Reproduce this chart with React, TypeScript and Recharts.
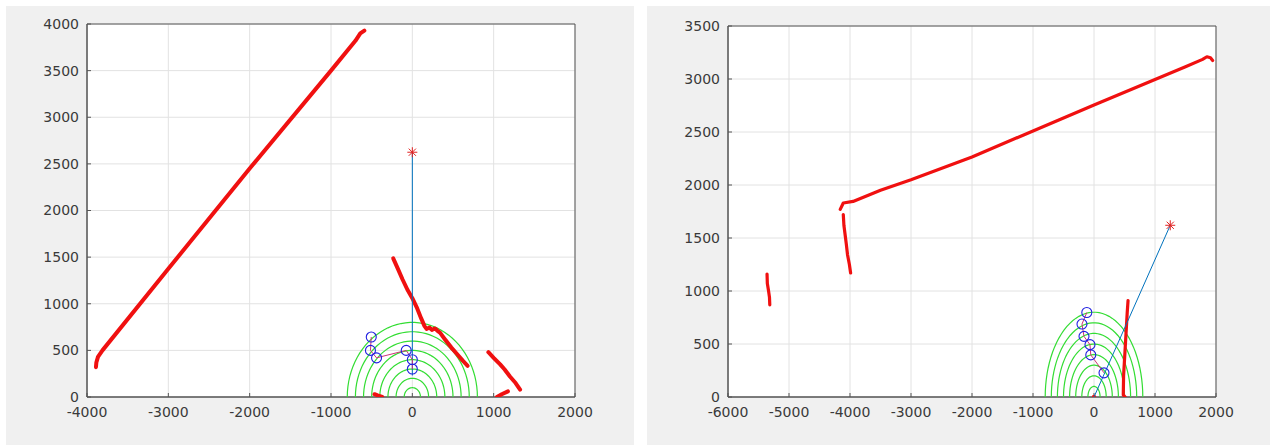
import React from 'react';
import { ScatterChart, Scatter, XAxis, YAxis, CartesianGrid, ReferenceArea } from 'recharts';

// ---------- shared ----------
const arcRadii = [100, 200, 300, 400, 500, 600, 700, 800];

// ---------- left panel data ----------
const leftXTicks = [-4000, -3000, -2000, -1000, 0, 1000, 2000];
const leftYTicks = [0, 500, 1000, 1500, 2000, 2500, 3000, 3500, 4000];
const leftWall = [
  [-3890, 320], [-3885, 370], [-3865, 430], [-3810, 500], [-3000, 1375],
  [-2000, 2450], [-1000, 3500], [-700, 3820], [-640, 3900], [-590, 3930],
];
const leftSegB = [
  [-235, 1486], [-180, 1380], [-120, 1260], [-60, 1150], [0, 1060], [60, 950], [110, 840],
  [150, 760], [175, 730], [210, 745], [240, 720], [280, 735], [310, 710], [340, 690],
  [400, 620], [480, 530], [560, 450], [620, 390], [680, 335],
];
const leftSegC = [[935, 480], [1000, 420], [1080, 350], [1135, 295], [1200, 220], [1270, 150], [1325, 80]];
const leftSegD = [[1040, 0], [1100, 30], [1175, 60]];
const leftSegE = [[-465, 30], [-420, 15], [-370, 0]];
const leftRay = [[0, 230], [0, 2625]];
const leftTarget = [[0, 2625]];
const leftPath = [[-505, 643], [-515, 500], [-440, 420], [-75, 500], [0, 400], [0, 300]];

// ---------- right panel data ----------
const rightXTicks = [-6000, -5000, -4000, -3000, -2000, -1000, 0, 1000, 2000];
const rightYTicks = [0, 500, 1000, 1500, 2000, 2500, 3000, 3500];
const rightWall = [
  [-4160, 1770], [-4110, 1830], [-3950, 1845], [-3800, 1880], [-3500, 1950], [-3000, 2050],
  [-2000, 2265], [-1000, 2510], [0, 2755], [500, 2875], [1000, 2995], [1500, 3115],
  [1780, 3185], [1850, 3210], [1910, 3200], [1945, 3175],
];
const rightSegB = [[-4110, 1720], [-4100, 1620], [-4080, 1530], [-4060, 1440], [-4040, 1340], [-4010, 1250], [-3990, 1170]];
const rightSegC = [[-5360, 1160], [-5355, 1070], [-5335, 1000], [-5320, 940], [-5315, 870]];
const rightSegD = [[510, 0], [480, 20], [485, 200], [505, 400], [525, 600], [545, 800], [558, 910]];
const rightOrigin = [[0, 0]];
const rightRay = [[0, 0], [1250, 1620]];
const rightTarget = [[1250, 1620]];
const rightPath = [[-118, 797], [-197, 688], [-164, 572], [-66, 494], [-53, 397], [164, 228]];

// ---------- helpers ----------
const toPts = (a: number[][]) => a.map(([x, y]) => ({ x, y }));
const arcPts = (r: number) => {
  const out: { x: number; y: number }[] = [];
  for (let a = 0; a <= 180; a += 4) {
    const t = (a * Math.PI) / 180;
    out.push({ x: r * Math.cos(t), y: r * Math.sin(t) });
  }
  return out;
};

const RED = '#f01010';
const BLUE_LINE = '#0072bd';
const GREEN = '#33dd33';
const FONT = { fontFamily: 'DejaVu Sans', fontSize: 14, fill: '#3a3a3a' };

const NoDot = () => <g />;
const RedDot = (p: any) => <circle cx={p.cx} cy={p.cy} r={2.2} fill={RED} />;
const Ring = (p: any) => <circle cx={p.cx} cy={p.cy} r={5} fill="none" stroke="#2020e0" strokeWidth={1.1} />;
const Star = (p: any) => {
  const s = 5;
  const d = 3.6;
  return (
    <g stroke="#e02020" strokeWidth={1}>
      <line x1={p.cx - s} y1={p.cy} x2={p.cx + s} y2={p.cy} />
      <line x1={p.cx} y1={p.cy - s} x2={p.cx} y2={p.cy + s} />
      <line x1={p.cx - d} y1={p.cy - d} x2={p.cx + d} y2={p.cy + d} />
      <line x1={p.cx - d} y1={p.cy + d} x2={p.cx + d} y2={p.cy - d} />
    </g>
  );
};

type PanelProps = {
  left: number;
  width: number;
  marginTop: number;
  marginRight: number;
  xTicks: number[];
  yTicks: number[];
  reds: number[][][];
  redWidth: number;
  dots: number[][];
  ray: number[][];
  target: number[][];
  path: number[][];
};

const Panel = (props: PanelProps) => {
  const { xTicks, yTicks } = props;
  const xDom: [number, number] = [xTicks[0], xTicks[xTicks.length - 1]];
  const yDom: [number, number] = [yTicks[0], yTicks[yTicks.length - 1]];
  return (
    <div style={{ position: 'absolute', left: props.left, top: 6, width: props.width, height: 439, background: '#f0f0f0' }}>
      <ScatterChart
        width={props.width}
        height={439}
        margin={{ top: props.marginTop, right: props.marginRight, bottom: 0, left: 0 }}
      >
        <CartesianGrid stroke="#e2e2e2" fill="#ffffff" />
        <XAxis
          type="number"
          dataKey="x"
          domain={xDom}
          ticks={xTicks}
          interval={0}
          allowDataOverflow
          height={48}
          tick={FONT}
          tickSize={-4}
          tickMargin={14}
          tickLine={{ stroke: '#555' }}
          axisLine={{ stroke: '#555' }}
        />
        <YAxis
          type="number"
          dataKey="y"
          domain={yDom}
          ticks={yTicks}
          interval={0}
          allowDataOverflow
          width={81}
          tick={FONT}
          tickSize={-4}
          tickMargin={12}
          tickLine={{ stroke: '#555' }}
          axisLine={{ stroke: '#555' }}
        />
        <XAxis
          xAxisId="top"
          orientation="top"
          type="number"
          dataKey="x"
          domain={xDom}
          ticks={xTicks}
          interval={0}
          height={0}
          tick={false}
          tickSize={-4}
          tickLine={{ stroke: '#555' }}
          axisLine={false}
        />
        <YAxis
          yAxisId="right"
          orientation="right"
          type="number"
          dataKey="y"
          domain={yDom}
          ticks={yTicks}
          interval={0}
          width={0}
          tick={false}
          tickSize={-4}
          tickLine={{ stroke: '#555' }}
          axisLine={false}
        />
        {arcRadii.map((r) => (
          <Scatter
            key={'arc' + r}
            data={arcPts(r)}
            line={{ stroke: GREEN, strokeWidth: 1.2 }}
            shape={NoDot}
            isAnimationActive={false}
          />
        ))}
        {props.reds.map((seg, i) => (
          <Scatter
            key={'red' + i}
            data={toPts(seg)}
            line={{ stroke: RED, strokeWidth: props.redWidth, strokeLinecap: 'round', strokeLinejoin: 'round' }}
            shape={NoDot}
            isAnimationActive={false}
          />
        ))}
        <Scatter data={toPts(props.dots)} shape={RedDot} isAnimationActive={false} />
        <Scatter data={toPts(props.ray)} line={{ stroke: BLUE_LINE, strokeWidth: 1 }} shape={NoDot} isAnimationActive={false} />
        <Scatter data={toPts(props.path)} line={{ stroke: '#cc3377', strokeWidth: 1 }} shape={Ring} isAnimationActive={false} />
        <Scatter data={toPts(props.target)} shape={Star} isAnimationActive={false} />
        <ReferenceArea x1={xDom[0]} x2={xDom[1]} y1={yDom[0]} y2={yDom[1]} fill="none" fillOpacity={0} stroke="#555" strokeOpacity={1} />
      </ScatterChart>
    </div>
  );
};

export default function App() {
  return (
    <div style={{ position: 'absolute', left: 0, top: 0, width: 1270, height: 446, background: '#ffffff', overflow: 'hidden' }}>
      <Panel
        left={6}
        width={628}
        marginTop={18}
        marginRight={59}
        xTicks={leftXTicks}
        yTicks={leftYTicks}
        reds={[leftWall, leftSegB, leftSegC, leftSegD, leftSegE]}
        redWidth={4}
        dots={[]}
        ray={leftRay}
        target={leftTarget}
        path={leftPath}
      />
      <Panel
        left={647}
        width={623}
        marginTop={20}
        marginRight={54}
        xTicks={rightXTicks}
        yTicks={rightYTicks}
        reds={[rightWall, rightSegB, rightSegC, rightSegD]}
        redWidth={3.2}
        dots={rightOrigin}
        ray={rightRay}
        target={rightTarget}
        path={rightPath}
      />
    </div>
  );
}
